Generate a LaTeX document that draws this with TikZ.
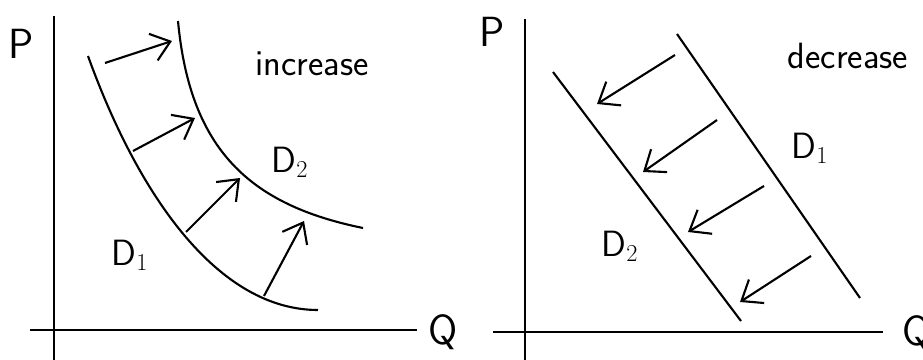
\documentclass[tikz,border=0pt]{standalone}
\usepackage{tikz}
\usetikzlibrary{arrows.meta}

\begin{document}
\begin{tikzpicture}[x=0.025cm, y=-0.025cm,
  curve/.style={line width=1.5pt},
  shift arrow/.style={line width=1.5pt, -{Straight Barb[length=4.5mm, width=7mm, line width=1.5pt]}},
  axislabel/.style={font=\sffamily\fontsize{30}{34}\selectfont},
  curvelabel/.style={font=\sffamily\fontsize{26}{30}\selectfont},
  notelabel/.style={font=\sffamily\fontsize{26}{30}\selectfont}]
\useasboundingbox (0,0) rectangle (923,360);

% increase in demand
\coordinate (ya) at (54,16);
\coordinate (yb) at (54,360);
\coordinate (xa) at (30,330);
\coordinate (xb) at (417,330);
\draw[curve] (ya) -- (yb);
\draw[curve] (xa) -- (xb);
\node[axislabel] (pa) at (21,44) {P};
\node[axislabel] (qa) at (443,332) {Q};

\coordinate (d1s) at (88,56);
\coordinate (d1e) at (318,310);
\coordinate (d2s) at (178,21);
\coordinate (d2e) at (363,228);
\draw[curve] (d1s) .. controls (140,200) and (220,310) .. (d1e);
\draw[curve] (d2s) .. controls (190,150) and (250,205) .. (d2e);

\coordinate (a1) at (105,63);  \coordinate (b1) at (172,41);
\coordinate (a2) at (133,151); \coordinate (b2) at (195,118);
\coordinate (a3) at (186,232); \coordinate (b3) at (240,178);
\coordinate (a4) at (264,296); \coordinate (b4) at (304,221);
\foreach \i in {1,...,4}
  \draw[shift arrow] (a\i) -- (b\i);

\node[curvelabel] (d1a) at (130,255) {D$_1$};
\node[curvelabel] (d2a) at (290,162) {D$_2$};
\node[notelabel] (inc) at (312,64) {increase};

% decrease in demand
\coordinate (yc) at (525,19);
\coordinate (yd) at (525,360);
\coordinate (xc) at (493,332);
\coordinate (xd) at (883,332);
\draw[curve] (yc) -- (yd);
\draw[curve] (xc) -- (xd);
\node[axislabel] (pb) at (492,32) {P};
\node[axislabel] (qb) at (917,333) {Q};

\coordinate (e2s) at (553,72);
\coordinate (e2e) at (741,321);
\coordinate (e1s) at (677,34);
\coordinate (e1e) at (860,298);
\draw[curve] (e2s) -- (e2e);
\draw[curve] (e1s) -- (e1e);

\coordinate (c1) at (675,55);  \coordinate (f1) at (597,104);
\coordinate (c2) at (717,120); \coordinate (f2) at (643,172);
\coordinate (c3) at (764,186); \coordinate (f3) at (688,232);
\coordinate (c4) at (811,256); \coordinate (f4) at (740,302);
\foreach \i in {1,...,4}
  \draw[shift arrow] (c\i) -- (f\i);

\node[curvelabel] (d1b) at (810,148) {D$_1$};
\node[curvelabel] (d2b) at (620,246) {D$_2$};
\node[notelabel] (dec) at (848,56) {decrease};
\end{tikzpicture}
\end{document}
